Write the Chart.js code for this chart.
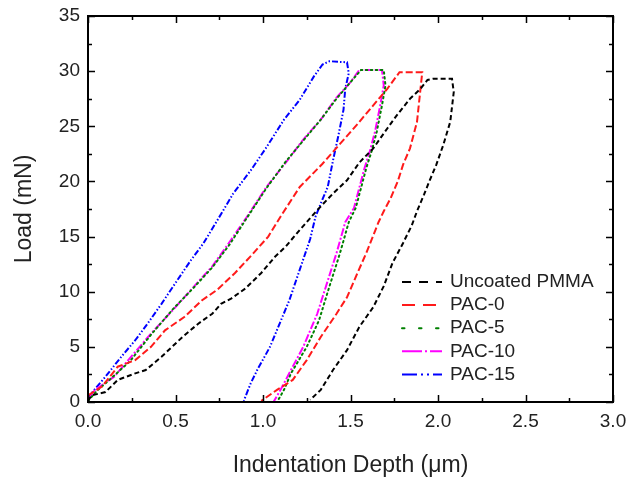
<!DOCTYPE html>
<html>
<head>
<meta charset="utf-8">
<script src="https://cdn.jsdelivr.net/npm/chart.js@4"></script>
<style>
  html, body { margin: 0; padding: 0; background: #fff; }
  canvas { display: block; }
</style>
</head>
<body>
<canvas id="loadChart" width="628" height="481"></canvas>
<script>
// valeurs (profondeur en µm, charge en mN)
const pmmaDepth = [0, 0.02, 0.10, 0.17, 0.27, 0.33, 0.42, 0.54, 0.63, 0.71, 0.76, 0.82, 0.90, 0.99, 1.07, 1.13, 1.21, 1.31, 1.40, 1.48, 1.55, 1.63, 1.71, 1.76, 1.84, 1.90, 1.94, 1.97, 2.08, 2.09, 2.07, 2.03, 1.99, 1.95, 1.92, 1.88, 1.85, 1.80, 1.74, 1.69, 1.63, 1.55, 1.48, 1.40, 1.33, 1.27];
const pmmaLoad = [0.1, 0.6, 0.9, 2.0, 2.6, 2.9, 4.1, 5.9, 7.1, 8.0, 8.9, 9.4, 10.3, 11.7, 13.2, 14.1, 15.6, 17.4, 18.9, 20.1, 21.7, 23.0, 24.8, 25.9, 27.5, 28.4, 29.2, 29.3, 29.3, 28.1, 25.4, 23.3, 21.5, 20.0, 18.8, 17.3, 16.0, 14.4, 12.6, 10.5, 8.6, 6.8, 4.7, 2.9, 1.1, 0.2];

const pac0Depth = [0, 0.08, 0.17, 0.27, 0.36, 0.44, 0.55, 0.65, 0.74, 0.84, 0.94, 1.03, 1.10, 1.21, 1.34, 1.44, 1.54, 1.63, 1.71, 1.78, 1.91, 1.90, 1.88, 1.84, 1.80, 1.77, 1.73, 1.69, 1.66, 1.59, 1.54, 1.48, 1.42, 1.33, 1.25, 1.17, 1.08, 0.99];
const pac0Load = [0.6, 1.4, 3.2, 3.8, 5.0, 6.5, 7.7, 9.2, 10.2, 11.7, 13.4, 15.0, 16.8, 19.5, 21.6, 23.4, 25.2, 26.9, 28.4, 29.9, 29.9, 28.4, 25.4, 23.0, 21.5, 20.0, 18.5, 17.3, 16.3, 13.5, 11.7, 9.5, 8.0, 5.9, 3.8, 2.0, 1.1, 0.1];

const pac5Depth = [0, 0.05, 0.15, 0.24, 0.36, 0.49, 0.60, 0.71, 0.81, 0.90, 1.02, 1.13, 1.23, 1.33, 1.42, 1.50, 1.56, 1.69, 1.70, 1.68, 1.65, 1.62, 1.59, 1.56, 1.53, 1.49, 1.44, 1.38, 1.32, 1.25, 1.16, 1.12, 1.08];
const pac5Load = [0.1, 1.0, 2.4, 3.7, 6.1, 8.5, 10.3, 12.2, 14.3, 16.5, 19.4, 21.8, 23.7, 25.6, 27.5, 29.0, 30.1, 30.1, 28.7, 26.9, 24.5, 22.7, 21.2, 19.4, 17.6, 16.3, 13.5, 10.5, 7.4, 5.0, 2.6, 1.1, 0];

const pac10Depth = [0, 0.04, 0.15, 0.23, 0.36, 0.50, 0.59, 0.71, 0.80, 0.90, 1.02, 1.14, 1.23, 1.33, 1.42, 1.50, 1.55, 1.68, 1.69, 1.67, 1.64, 1.61, 1.58, 1.55, 1.52, 1.47, 1.42, 1.36, 1.31, 1.23, 1.15, 1.10, 1.06];
const pac10Load = [0.2, 1.1, 2.3, 3.8, 6.2, 8.6, 10.2, 12.3, 14.3, 16.6, 19.5, 21.9, 23.8, 25.6, 27.6, 29.0, 30.1, 30.1, 28.7, 26.9, 24.5, 22.7, 21.2, 19.4, 17.6, 16.3, 13.5, 10.5, 8.0, 5.0, 2.6, 1.1, 0];

const pac15Depth = [0, 0.02, 0.10, 0.19, 0.27, 0.34, 0.42, 0.50, 0.59, 0.66, 0.74, 0.83, 0.93, 1.02, 1.12, 1.21, 1.29, 1.34, 1.38, 1.48, 1.49, 1.47, 1.46, 1.43, 1.40, 1.37, 1.33, 1.30, 1.27, 1.21, 1.15, 1.10, 1.04, 0.97, 0.93, 0.89];
const pac15Load = [0.2, 0.8, 2.3, 4.1, 5.6, 7.1, 8.9, 10.8, 12.9, 14.4, 16.5, 18.9, 21.0, 23.1, 25.6, 27.4, 29.5, 30.6, 30.9, 30.8, 29.8, 28.4, 26.5, 24.1, 21.9, 19.5, 18.0, 16.8, 14.8, 12.0, 9.2, 7.3, 5.0, 3.0, 1.7, 0.1];

const seriesLabels = ['Uncoated PMMA', 'PAC-0', 'PAC-5', 'PAC-10', 'PAC-15'];
const xTicks = [0, 0.5, 1.0, 1.5, 2.0, 2.5, 3.0];
const yTicks = [0, 5, 10, 15, 20, 25, 30, 35];

const FONT = "'Liberation Sans', Arial, sans-serif";
const TEXT = '#222';

const styles = [
  { color: '#000000', dash: [5, 3], legendDash: [9, 8] },
  { color: '#ff1a1a', dash: [7, 3], legendDash: [13, 8] },
  { color: '#008000', dash: [1.5, 3.5], legendDash: [2.5, 14.5] },
  { color: '#ff00ff', dash: [8, 2, 2, 2], legendDash: [20, 3, 2, 3] },
  { color: '#0000ff', dash: [6, 2, 1.5, 2, 1.5, 2], legendDash: [15, 4, 2, 4, 2, 4] }
];

const toPoints = (xs, ys) => xs.map((x, i) => ({ x: x, y: ys[i] }));
const curves = [
  toPoints(pmmaDepth, pmmaLoad),
  toPoints(pac0Depth, pac0Load),
  toPoints(pac5Depth, pac5Load),
  toPoints(pac10Depth, pac10Load),
  toPoints(pac15Depth, pac15Load)
];

// Cadre + graduations vers l'intérieur (majeures et mineures sur les 4 côtés)
const framePlugin = {
  id: 'frame',
  afterDatasetsDraw(chart) {
    const { ctx, chartArea: a, scales } = chart;
    const xs = scales.x, ys = scales.y;
    ctx.save();
    ctx.strokeStyle = '#000';
    ctx.lineWidth = 1.5;
    ctx.beginPath();
    for (let v = 0; v <= 3.0001; v += 0.25) {
      const px = Math.round(xs.getPixelForValue(v)) + 0.5;
      const len = Math.abs(v / 0.5 - Math.round(v / 0.5)) < 0.01 ? 7 : 4;
      ctx.moveTo(px, a.bottom); ctx.lineTo(px, a.bottom - len);
      ctx.moveTo(px, a.top); ctx.lineTo(px, a.top + len);
    }
    for (let v = 0; v <= 35.001; v += 2.5) {
      const py = Math.round(ys.getPixelForValue(v)) + 0.5;
      const len = Math.abs(v / 5 - Math.round(v / 5)) < 0.01 ? 7 : 4;
      ctx.moveTo(a.left, py); ctx.lineTo(a.left + len, py);
      ctx.moveTo(a.right, py); ctx.lineTo(a.right - len, py);
    }
    ctx.stroke();
    ctx.lineWidth = 2;
    ctx.strokeRect(a.left, a.top, a.right - a.left, a.bottom - a.top);
    ctx.restore();
  }
};

// Légende dessinée dans la zone du graphe, en bas à droite
const legendPlugin = {
  id: 'insideLegend',
  afterDraw(chart) {
    const { ctx } = chart;
    const x0 = 402, x1 = 442, tx = 450, y0 = 282, step = 23.1;
    ctx.save();
    ctx.font = '19px ' + FONT;
    ctx.textBaseline = 'middle';
    ctx.textAlign = 'left';
    seriesLabels.forEach((label, i) => {
      const y = y0 + i * step;
      ctx.strokeStyle = styles[i].color;
      ctx.lineWidth = 2;
      ctx.setLineDash(styles[i].legendDash);
      ctx.lineCap = i === 2 ? 'round' : 'butt';
      ctx.beginPath();
      ctx.moveTo(x0, y);
      ctx.lineTo(x1, y);
      ctx.stroke();
      ctx.setLineDash([]);
      ctx.fillStyle = TEXT;
      ctx.fillText(label, tx, y);
    });
    ctx.restore();
  }
};

const ctx = document.getElementById('loadChart').getContext('2d');
new Chart(ctx, {
  type: 'scatter',
  data: {
    datasets: curves.map((pts, i) => ({
      label: seriesLabels[i],
      data: pts,
      showLine: true,
      borderColor: styles[i].color,
      backgroundColor: styles[i].color,
      borderWidth: 2,
      borderDash: styles[i].dash,
      borderCapStyle: i === 2 ? 'round' : 'butt',
      pointRadius: 0,
      tension: 0
    }))
  },
  options: {
    responsive: false,
    animation: false,
    devicePixelRatio: 1,
    layout: { padding: { top: 16, right: 15, left: 7, bottom: 0 } },
    plugins: {
      legend: { display: false },
      tooltip: { enabled: false }
    },
    scales: {
      x: {
        type: 'linear',
        min: 0,
        max: 3,
        afterFit: (scale) => {
          scale.height = 79;
          scale.paddingLeft = 0;
          scale.paddingRight = 0;
        },
        afterBuildTicks: (scale) => { scale.ticks = xTicks.map(v => ({ value: v })); },
        grid: { display: false, drawTicks: false },
        border: { display: false },
        ticks: {
          autoSkip: false,
          maxRotation: 0,
          padding: 8,
          color: TEXT,
          font: { family: FONT, size: 19 },
          callback: (v) => Number(v).toFixed(1)
        },
        title: {
          display: true,
          text: 'Indentation Depth (\u03bcm)',
          color: TEXT,
          font: { family: FONT, size: 23, lineHeight: 0.95 }
        }
      },
      y: {
        type: 'linear',
        min: 0,
        max: 35,
        afterFit: (scale) => {
          scale.width = 81;
          scale.paddingTop = 0;
          scale.paddingBottom = 0;
        },
        afterBuildTicks: (scale) => { scale.ticks = yTicks.map(v => ({ value: v })); },
        grid: { display: false, drawTicks: false },
        border: { display: false },
        ticks: {
          autoSkip: false,
          padding: 8,
          color: TEXT,
          font: { family: FONT, size: 19 }
        },
        title: {
          display: true,
          text: 'Load (mN)',
          color: TEXT,
          font: { family: FONT, size: 23 }
        }
      }
    }
  },
  plugins: [framePlugin, legendPlugin]
});
</script>
</body>
</html>
